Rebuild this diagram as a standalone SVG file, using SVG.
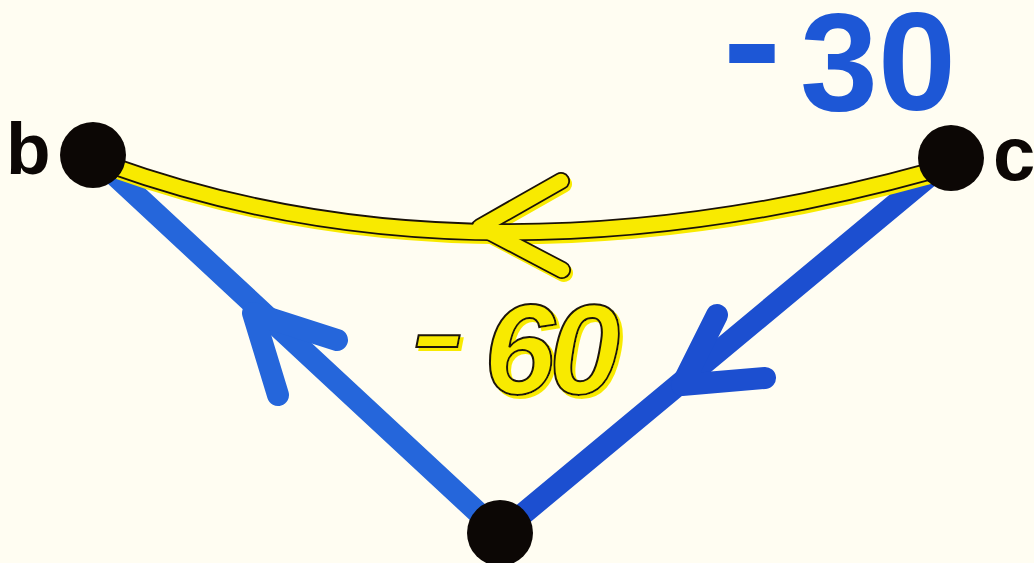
<svg xmlns="http://www.w3.org/2000/svg" width="1034" height="563" viewBox="0 0 1034 563">
<defs>
<filter id="yshadow" x="-10%" y="-10%" width="130%" height="130%">
  <feFlood flood-color="#f8ea00" result="f"/>
  <feComposite in="f" in2="SourceAlpha" operator="in" result="s"/>
  <feOffset in="s" dx="3" dy="3" result="o"/>
  <feMerge><feMergeNode in="o"/><feMergeNode in="SourceGraphic"/></feMerge>
</filter>
</defs>
<style>
.bl{fill:none;stroke-width:22;stroke-linecap:round;stroke-linejoin:round}
.yk{fill:none;stroke:#1a1208;stroke-width:18;stroke-linecap:round;stroke-linejoin:round}
.yy{fill:none;stroke:#f8ea00;stroke-width:14.5;stroke-linecap:round;stroke-linejoin:round}
.ys{fill:none;stroke:#f8ea00;stroke-width:18;stroke-linecap:round;stroke-linejoin:round}
.node{fill:#0c0705}
.lab{font-family:"Liberation Sans",Arial,sans-serif;font-weight:bold;fill:#0c0705}
</style>
<rect width="1034" height="563" fill="#fffdf2"/>
<g id="connectors">
  <g id="edge-b-bottom">
    <line class="bl" stroke="#2566db" x1="93" y1="155" x2="500" y2="533"/>
    <polyline class="bl" stroke="#2566db" points="337,340 253,313 278,395"/>
  </g>
  <g id="edge-bottom-c">
    <line class="bl" stroke="#1c4fd0" x1="951" y1="158" x2="500" y2="533"/>
    <polyline class="bl" stroke="#1c4fd0" points="717,315 682,385 765,378"/>
  </g>
  <g id="edge-c-b">
    <g transform="translate(2,3)">
      <path class="ys" d="M110,165 Q477,297 935,170"/>
      <polyline class="ys" points="561,181 480,227 562,270"/>
    </g>
    <path class="yk" d="M110,165 Q477,297 935,170"/>
    <polyline class="yk" points="561,181 480,227 562,270"/>
    <path class="yy" d="M110,165 Q477,297 935,170"/>
    <polyline class="yy" points="561,181 480,227 562,270"/>
  </g>
</g>
<g id="node-b">
  <circle class="node" cx="93" cy="155" r="33"/>
  <text class="lab" x="6" y="174" font-size="73">b</text>
</g>
<g id="node-c">
  <circle class="node" cx="951" cy="158" r="33"/>
  <text class="lab" x="993" y="180" font-size="76">c</text>
</g>
<g id="node-bottom">
  <circle class="node" cx="500" cy="533" r="33"/>
</g>
<g id="label-30">
  <text font-family="Liberation Sans,Arial,sans-serif" font-weight="bold" fill="#1d57d6"><tspan x="704" y="95" font-size="160" font-family="Liberation Mono,monospace">-</tspan><tspan x="800" y="110" font-size="140">3</tspan><tspan x="878" y="110" font-size="140">0</tspan></text>
</g>
<g id="label-60">
  <text font-family="Liberation Sans,Arial,sans-serif" font-weight="bold" font-style="italic" fill="#f8ea00" stroke="#1a1208" stroke-width="2" filter="url(#yshadow)"><tspan x="393" y="381" font-size="150" font-family="Liberation Mono,monospace" font-weight="normal">-</tspan><tspan x="484" y="394" font-size="128">6</tspan><tspan x="549" y="394" font-size="128">0</tspan></text>
</g>
</svg>
